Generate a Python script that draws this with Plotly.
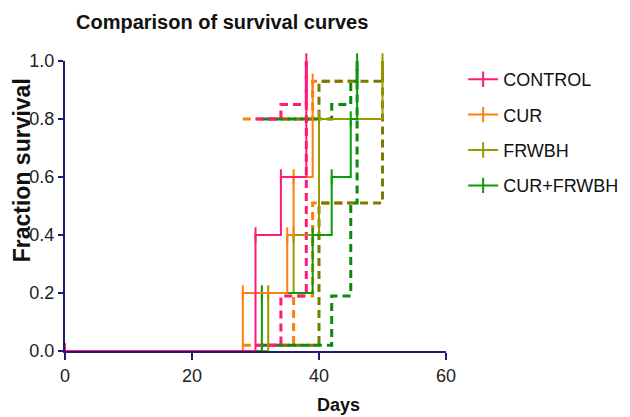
import plotly.graph_objects as go

# ---- data (days, cumulative fraction) ----
groups = ["CONTROL", "CUR", "FRWBH", "CUR+FRWBH"]
colors = {"CONTROL": "#ff1a78", "CUR": "#ff7f0e", "FRWBH": "#9a9a00", "CUR+FRWBH": "#0a9a0a"}
dash_colors = {"CONTROL": "#ff1a78", "CUR": "#ff7f0e", "FRWBH": "#7a7a00", "CUR+FRWBH": "#0a8a0a"}

control_days = [0, 30, 34, 38]
control_frac = [0.0, 0.4, 0.6, 1.0]
cur_days = [0, 28, 35, 36, 39]
cur_frac = [0.0, 0.2, 0.4, 0.6, 0.93]
frwbh_days = [0, 32, 36, 40, 50]
frwbh_frac = [0.0, 0.2, 0.4, 0.8, 1.0]
combo_days = [0, 31, 39, 42, 45, 46]
combo_frac = [0.0, 0.2, 0.4, 0.6, 0.8, 1.0]

# dashed bands (lower / upper)
control_lo_days = [30, 34, 38]
control_lo = [0.02, 0.19, 1.0]
control_hi_days = [30, 34, 38]
control_hi = [0.8, 0.85, 1.0]
cur_lo_days = [28, 36, 39, 45]
cur_lo = [0.02, 0.19, 0.51, 0.51]
cur_hi_days = [28, 39, 45]
cur_hi = [0.8, 0.93, 0.93]
frwbh_lo_days = [32, 40, 50]
frwbh_lo = [0.02, 0.51, 1.0]
frwbh_hi_days = [32, 40, 50]
frwbh_hi = [0.8, 0.93, 1.0]
combo_lo_days = [31, 42, 45, 46]
combo_lo = [0.02, 0.19, 0.51, 1.0]
combo_hi_days = [31, 42, 45, 46]
combo_hi = [0.8, 0.85, 0.93, 1.0]

x_ticks = [0, 20, 40, 60]
y_ticks = [0.0, 0.2, 0.4, 0.6, 0.8, 1.0]

solid = {
    "CONTROL": (control_days, control_frac),
    "CUR": (cur_days, cur_frac),
    "FRWBH": (frwbh_days, frwbh_frac),
    "CUR+FRWBH": (combo_days, combo_frac),
}
bands = {
    "CUR": [(cur_lo_days, cur_lo), (cur_hi_days, cur_hi)],
    "FRWBH": [(frwbh_lo_days, frwbh_lo), (frwbh_hi_days, frwbh_hi)],
    "CUR+FRWBH": [(combo_lo_days, combo_lo), (combo_hi_days, combo_hi)],
    "CONTROL": [(control_lo_days, control_lo), (control_hi_days, control_hi)],
}

fig = go.Figure()
for g, curves in bands.items():
    for xs, ys in curves:
        fig.add_trace(go.Scatter(
            x=xs, y=ys, mode="lines", line_shape="hv",
            line=dict(color=dash_colors[g], width=3, dash="8px,5px"),
            showlegend=False, hoverinfo="skip"))

draw_order = ["FRWBH", "CUR+FRWBH", "CUR", "CONTROL"]
for g in draw_order:
    xs, ys = solid[g]
    fig.add_trace(go.Scatter(
        x=xs, y=ys, mode="lines+markers", line_shape="hv", name=g,
        line=dict(color=colors[g], width=2),
        marker=dict(symbol="line-ns", size=11, line=dict(color=colors[g], width=2)),
        cliponaxis=False,
        legendrank=groups.index(g) + 1,
        legendgroup=g))

axis_color = "#1c1c7a"
font_family = "Liberation Sans, Arial, sans-serif"
fig.update_layout(
    width=622, height=409,
    margin=dict(l=57, r=184, t=53, b=66, autoexpand=False),
    paper_bgcolor="white", plot_bgcolor="white",
    font=dict(family=font_family, color="#222222"),
    showlegend=True,
    legend=dict(x=1.045, y=1.0, xanchor="left", yanchor="top",
                font=dict(size=18, color="#111111"),
                tracegroupgap=9, traceorder="grouped",
                bgcolor="rgba(0,0,0,0)"),
    xaxis=dict(range=[0, 60], tickvals=x_ticks, showgrid=False, zeroline=False,
               showline=True, linecolor=axis_color, linewidth=2,
               ticks="outside", ticklen=7, tickwidth=2, tickcolor=axis_color,
               tickfont=dict(size=18, color="#222222")),
    yaxis=dict(range=[0, 1.0], tickvals=y_ticks, tickformat=".1f", showgrid=False,
               zeroline=False, showline=True, linecolor=axis_color, linewidth=2,
               ticks="outside", ticklen=5, tickwidth=2, tickcolor=axis_color,
               tickfont=dict(size=18, color="#222222")),
    annotations=[
        dict(text="<b>Comparison of survival curves</b>", x=0.412, y=1.133,
             xref="paper", yref="paper", xanchor="center", yanchor="middle",
             showarrow=False, font=dict(size=20, color="#111111")),
        dict(text="<b>Days</b>", x=0.719, y=-0.187, xref="paper", yref="paper",
             xanchor="center", yanchor="middle", showarrow=False,
             font=dict(size=18, color="#111111")),
        dict(text="<b>Fraction survival</b>", x=-0.113, y=0.623, xref="paper",
             yref="paper", xanchor="center", yanchor="middle", textangle=-90,
             showarrow=False, font=dict(size=23, color="#111111")),
    ],
)

fig.write_html("out.html")
